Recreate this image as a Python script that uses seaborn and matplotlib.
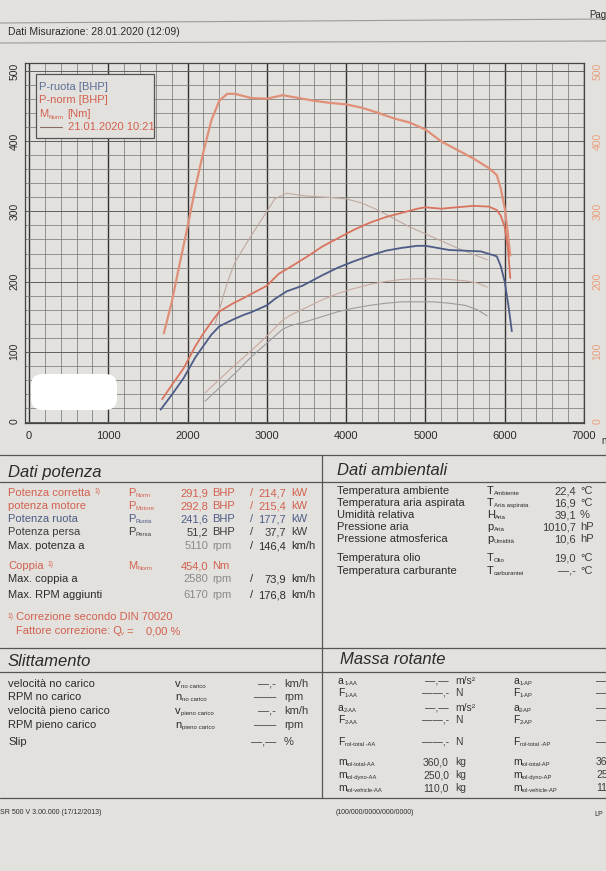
import pandas as pd
import matplotlib.pyplot as plt
import seaborn as sns
from matplotlib.ticker import MultipleLocator
from matplotlib.patches import Rectangle, FancyBboxPatch

# ---- curve data ----
rpm_torque = [1700, 1800, 1900, 2000, 2100, 2200, 2300, 2400, 2500, 2600, 2800, 3000, 3200, 3400, 3600,
              3800, 4000, 4200, 4400, 4600, 4800, 5000, 5200, 5400, 5600, 5800, 5900, 5950, 6000, 6040, 6070]
m_norm = [126, 170, 225, 278, 335, 385, 430, 458, 468, 468, 462, 461, 466, 462, 458,
          455, 453, 448, 441, 433, 427, 417, 400, 388, 376, 362, 352, 333, 305, 268, 237]

rpm_pnorm = [1680, 1800, 1950, 2100, 2200, 2300, 2400, 2560, 2700, 2800, 3000, 3150, 3300, 3500, 3700, 3900,
             4100, 4300, 4500, 4700, 4900, 5000, 5200, 5400, 5600, 5800, 5900, 5950, 6000, 6040, 6070]
p_norm = [32, 52, 76, 108, 126, 142, 157, 168, 176, 182, 194, 211, 221, 235, 250, 262,
          274, 284, 292, 298, 304, 306, 304, 306, 308, 307, 302, 294, 278, 248, 205]

rpm_pruota = [1660, 1800, 1950, 2100, 2200, 2300, 2400, 2560, 2700, 2800, 3000, 3100, 3250, 3450, 3700, 3900,
              4100, 4300, 4500, 4700, 4900, 5000, 5100, 5300, 5500, 5700, 5900, 5950, 6000, 6050, 6090]
p_ruota = [17, 38, 62, 92, 108, 124, 136, 145, 152, 156, 166, 175, 186, 194, 209, 220,
           229, 237, 244, 248, 251, 251, 249, 245, 244, 243, 236, 222, 200, 163, 129]

# comparison run 21.01.2020 10:21 (thin lines)
rpm_torque_old = [2350, 2500, 2600, 2800, 3000, 3100, 3250, 3500, 3800, 4000, 4200, 4400, 4600, 4800,
                  5000, 5200, 5400, 5600, 5780]
m_norm_old = [140, 198, 228, 265, 300, 318, 326, 322, 320, 318, 312, 302, 290, 278, 268, 258, 248, 239, 231]

rpm_power_old = [2220, 2400, 2600, 2800, 3000, 3200, 3300, 3500, 3700, 3900, 4100, 4300, 4500, 4700,
                 4900, 5100, 5300, 5500, 5650, 5780]
p_norm_old = [41, 60, 81, 101, 122, 145, 152, 163, 174, 183, 190, 196, 200, 203, 204, 204, 203, 201, 198, 192]
p_ruota_old = [29, 48, 69, 92, 112, 132, 137, 143, 150, 157, 162, 166, 169, 171, 171, 171, 169, 166, 160, 151]

x_ticks = [0, 1000, 2000, 3000, 4000, 5000, 6000, 7000]
y_ticks = [0, 100, 200, 300, 400, 500]

# ---- colours ----
PAPER = '#e3e1dd'
INK = '#2b2b2b'
DARK = '#3d3d3d'
GREY = '#8b8b8b'
RED = '#d2614f'
BLUE = '#4c5c86'
ORANGE = '#e8a07e'

sns.set_theme(style='white')
plt.rcParams['font.family'] = ['Liberation Sans', 'DejaVu Sans']

W, H = 606, 871
fig = plt.figure(figsize=(W / 100, H / 100), dpi=100, facecolor=PAPER)

# page layer in pixel coordinates
page = fig.add_axes([0, 0, 1, 1], zorder=0)
page.set_xlim(0, W)
page.set_ylim(H, 0)
page.axis('off')
page.set_facecolor(PAPER)

# ---- chart ----
left, right, top, bottom = 25, 584, 63, 423
ax = fig.add_axes([left / W, 1 - bottom / H, (right - left) / W, (bottom - top) / H], zorder=2)
ax.set_facecolor('none')

sns.lineplot(x=rpm_torque_old, y=m_norm_old, ax=ax, color='#bfa9a0', lw=0.8)
sns.lineplot(x=rpm_power_old, y=p_norm_old, ax=ax, color='#c8a99e', lw=0.8)
sns.lineplot(x=rpm_power_old, y=p_ruota_old, ax=ax, color='#9e9a9c', lw=0.8)
sns.lineplot(x=rpm_torque, y=m_norm, ax=ax, color='#e09078', lw=1.6)
sns.lineplot(x=rpm_pnorm, y=p_norm, ax=ax, color='#d9735f', lw=1.3)
sns.lineplot(x=rpm_pruota, y=p_ruota, ax=ax, color=BLUE, lw=1.3)

ax.set_xlim(-50, 7000)
ax.set_ylim(-2, 512)
ax.set_xticks(x_ticks)
ax.set_yticks(y_ticks)
ax.xaxis.set_minor_locator(MultipleLocator(200))
ax.yaxis.set_minor_locator(MultipleLocator(20))
ax.grid(which='minor', color='#7a7a7a', lw=0.55)
ax.grid(which='major', axis='y', color='#5e5e5e', lw=0.7)
ax.grid(which='major', axis='x', color='#333333', lw=1.0)
ax.set_axisbelow(True)
for s in ax.spines.values():
    s.set_color('#444444')
    s.set_linewidth(0.9)
ax.tick_params(which='both', length=0)
ax.tick_params(axis='x', labelsize=8, colors=INK, pad=6)
ax.tick_params(axis='y', labelsize=7.5, colors=INK, pad=4)
plt.setp(ax.get_yticklabels(), rotation=90, va='center')
ax.set_xlabel('')
ax.set_ylabel('')

ax2 = ax.twinx()
ax2.set_ylim(ax.get_ylim())
ax2.set_yticks(y_ticks)
ax2.tick_params(length=0, labelsize=7.5, colors=ORANGE, pad=6)
plt.setp(ax2.get_yticklabels(), rotation=90, va='center')
for s in ax2.spines.values():
    s.set_visible(False)

page.text(601, 441, 'n', fontsize=7, color=INK, va='center')

# legend box
ax.add_patch(Rectangle((36, 74), 118, 64, transform=page.transData, fill=True,
                       facecolor=PAPER, edgecolor='#555555', lw=0.9, clip_on=False, zorder=5))
ax.text(39, 87, 'P-ruota [BHP]', transform=page.transData, fontsize=8, color='#5b6e96', va='center', zorder=6)
ax.text(39, 100, 'P-norm [BHP]', transform=page.transData, fontsize=8, color=RED, va='center', zorder=6)
tm = ax.text(39, 114, 'M', transform=page.transData, fontsize=8, color=RED, va='center', zorder=6)
ts = ax.annotate('Norm', xy=(1, 0), xycoords=tm, xytext=(0.3, 0), textcoords='offset points',
                 fontsize=4.5, color=RED, va='baseline', zorder=6)
ax.annotate('[Nm]', xy=(1, 0.5), xycoords=tm, xytext=(14, 0), textcoords='offset points',
            fontsize=8, color=RED, va='center', zorder=6)
ax.plot([40, 62], [127, 127], transform=page.transData, color='#8a6a60', lw=0.8, clip_on=False, zorder=6)
ax.text(68, 127, '21.01.2020 10:21', transform=page.transData, fontsize=8, color=RED, va='center', zorder=6)

# blanked-out stamp
ax.add_patch(FancyBboxPatch((34, 377), 80, 30, boxstyle='round,pad=3,rounding_size=12',
                            transform=page.transData, facecolor='white', edgecolor='none',
                            clip_on=False, zorder=7))

# ---- header ----
page.plot([0, W], [23, 19], color='#9a9a9a', lw=0.8)
page.plot([0, W], [43, 41], color='#9a9a9a', lw=0.8)
page.text(8, 32, 'Dati Misurazione: 28.01.2020 (12:09)', fontsize=7.5, color=INK, va='center')
page.text(589, 15, 'Pag', fontsize=7, color=INK, va='center')

# ---- table frame ----
for yy in [455, 482, 648, 672, 798]:
    page.plot([0, W], [yy, yy], color='#555555', lw=0.9)
page.plot([322, 322], [455, 798], color='#555555', lw=0.9)


def sym(x, y, main, sub, color, size):
    t = page.text(x, y, main, fontsize=size, color=color, va='center')
    page.annotate(sub, xy=(1, 0), xycoords=t, xytext=(0.3, 0.5), textcoords='offset points',
                  fontsize=size * 0.55, color=color, va='baseline')


def note(x, y, label, color, size, mark='1)'):
    t = page.text(x, y, label, fontsize=size, color=color, va='center')
    page.annotate(mark, xy=(1, 0.3), xycoords=t, xytext=(3, 0), textcoords='offset points',
                  fontsize=size * 0.6, color=color, va='bottom')


# Dati potenza
page.text(8, 472, 'Dati potenza', fontsize=12, style='italic', color=INK, va='center')
fs = 8
pot_y = [493, 506, 519, 532, 546]
note(8, pot_y[0], 'Potenza corretta', RED, fs)
page.text(8, pot_y[1], 'potenza motore', fontsize=fs, color=RED, va='center')
page.text(8, pot_y[2], 'Potenza ruota', fontsize=fs, color=BLUE, va='center')
page.text(8, pot_y[3], 'Potenza persa', fontsize=fs, color=DARK, va='center')
page.text(8, pot_y[4], 'Max. potenza a', fontsize=fs, color=INK, va='center')
pot_sub = ['Norm', 'Motore', 'Ruota', 'Persa']
pot_bhp = ['291,9', '292,8', '241,6', '51,2']
pot_kw = ['214,7', '215,4', '177,7', '37,7']
pot_col = [RED, RED, BLUE, DARK]
for yy, sb, b, k, c in zip(pot_y, pot_sub, pot_bhp, pot_kw, pot_col):
    sym(128, yy, 'P', sb, c, fs)
    page.text(208, yy, b, fontsize=fs, color=c, va='center', ha='right')
    page.text(212, yy, 'BHP', fontsize=fs, color=c, va='center')
    page.text(250, yy, '/', fontsize=fs, color=c, va='center')
    page.text(286, yy, k, fontsize=fs, color=c, va='center', ha='right')
    page.text(291, yy, 'kW', fontsize=fs, color=c, va='center')

note(8, 566, 'Coppia', RED, fs)
sym(128, 566, 'M', 'Norm', RED, fs)
page.text(208, 566, '454,0', fontsize=fs, color=RED, va='center', ha='right')
page.text(212, 566, 'Nm', fontsize=fs, color=RED, va='center')
rpm_rows = [(546, '5110', '146,4'), (579, '2580', '73,9'), (595, '6170', '176,8')]
page.text(8, 579, 'Max. coppia a', fontsize=fs, color=INK, va='center')
page.text(8, 595, 'Max. RPM aggiunti', fontsize=fs, color=INK, va='center')
for yy, r, v in rpm_rows:
    page.text(208, yy, r, fontsize=fs, color=GREY, va='center', ha='right')
    page.text(212, yy, 'rpm', fontsize=fs, color=GREY, va='center')
    page.text(250, yy, '/', fontsize=fs, color=INK, va='center')
    page.text(286, yy, v, fontsize=fs, color=INK, va='center', ha='right')
    page.text(291, yy, 'km/h', fontsize=fs, color=INK, va='center')

page.text(16, 617, 'Correzione secondo DIN 70020', fontsize=fs, color=RED, va='center')
page.text(8, 616, '1)', fontsize=fs * 0.6, color=RED, va='center')
page.text(16, 631, 'Fattore correzione: Q', fontsize=fs, color=RED, va='center')
page.text(121, 633, 'v', fontsize=fs * 0.55, color=RED, va='center')
page.text(127, 631, '=    0,00 %', fontsize=fs, color=RED, va='center')

# Dati ambientali
page.text(337, 470, 'Dati ambientali', fontsize=12, style='italic', color=INK, va='center')
fa = 8
amb_labels = ['Temperatura ambiente', 'Temperatura aria aspirata', 'Umidità relativa', 'Pressione aria',
              'Pressione atmosferica', 'Temperatura olio', 'Temperatura carburante']
amb_main = ['T', 'T', 'H', 'p', 'p', 'T', 'T']
amb_sub = ['Ambiente', 'Aria aspirata', 'Aria', 'Aria', 'Umidità', 'Olio', 'carburantei']
amb_vals = ['22,4', '16,9', '39,1', '1010,7', '10,6', '19,0', '—,-']
amb_units = ['°C', '°C', '%', 'hP', 'hP', '°C', '°C']
amb_y = [491, 503, 515, 527, 539, 558, 571]
for yy, lab, m, sb, v, u in zip(amb_y, amb_labels, amb_main, amb_sub, amb_vals, amb_units):
    page.text(337, yy, lab, fontsize=fa, color=INK, va='center')
    sym(487, yy, m, sb, INK, fa)
    page.text(576, yy, v, fontsize=fa, color=DARK, va='center', ha='right')
    page.text(580, yy, u, fontsize=fa, color=DARK, va='center')

# Slittamento
page.text(8, 661, 'Slittamento', fontsize=12, style='italic', color=INK, va='center')
sl_labels = ['velocità no carico', 'RPM no carico', 'velocità pieno carico', 'RPM pieno carico', 'Slip']
sl_main = ['v', 'n', 'v', 'n', '']
sl_sub = ['no carico', 'no carico', 'pieno carico', 'pieno carico', '']
sl_vals = ['—,-', '——', '—,-', '——', '—,—']
sl_units = ['km/h', 'rpm', 'km/h', 'rpm', '%']
sl_y = [684, 697, 711, 725, 742]
for yy, lab, m, sb, v, u in zip(sl_y, sl_labels, sl_main, sl_sub, sl_vals, sl_units):
    page.text(8, yy, lab, fontsize=fa, color=INK, va='center')
    if m:
        sym(175, yy, m, sb, INK, fa)
    page.text(276, yy, v, fontsize=fa, color=DARK, va='center', ha='right')
    page.text(284, yy, u, fontsize=fa, color=DARK, va='center')

# Massa rotante
page.text(340, 659, 'Massa rotante', fontsize=12, style='italic', color=INK, va='center')
fm = 7.5
ms_main = ['a', 'F', 'a', 'F', 'F', 'm', 'm', 'm']
ms_sub = ['1-AA', '1-AA', '2-AA', '2-AA', 'rol-total -AA', 'rol-total-AA', 'rol-dyno-AA', 'rol-vehicle-AA']
ms_vals = ['—,—', '——,-', '—,—', '——,-', '——,-', '360,0', '250,0', '110,0']
ms_units = ['m/s²', 'N', 'm/s²', 'N', 'N', 'kg', 'kg', 'kg']
ms_edge = ['—', '—', '—', '—', '—', '36', '25', '11']
ms_y = [681, 693, 708, 720, 742, 762, 775, 788]
for yy, m, sb, v, u, e in zip(ms_y, ms_main, ms_sub, ms_vals, ms_units, ms_edge):
    sym(338, yy, m, sb, INK, fm)
    page.text(449, yy, v, fontsize=fm, color=DARK, va='center', ha='right')
    page.text(455, yy, u, fontsize=fm, color=DARK, va='center')
    sym(513, yy, m, sb.replace('AA', 'AP'), INK, fm)
    page.text(596, yy, e, fontsize=fm, color=DARK, va='center')

# footer
page.text(0, 812, 'SR 500 V 3.00.000 (17/12/2013)', fontsize=5, color=INK, va='center')
page.text(336, 812, '(100/000/0000/000/0000)', fontsize=5, color=INK, va='center')
page.text(594, 814, 'LP', fontsize=5, color=INK, va='center')

fig.savefig('out.png', dpi=100, facecolor=PAPER)
